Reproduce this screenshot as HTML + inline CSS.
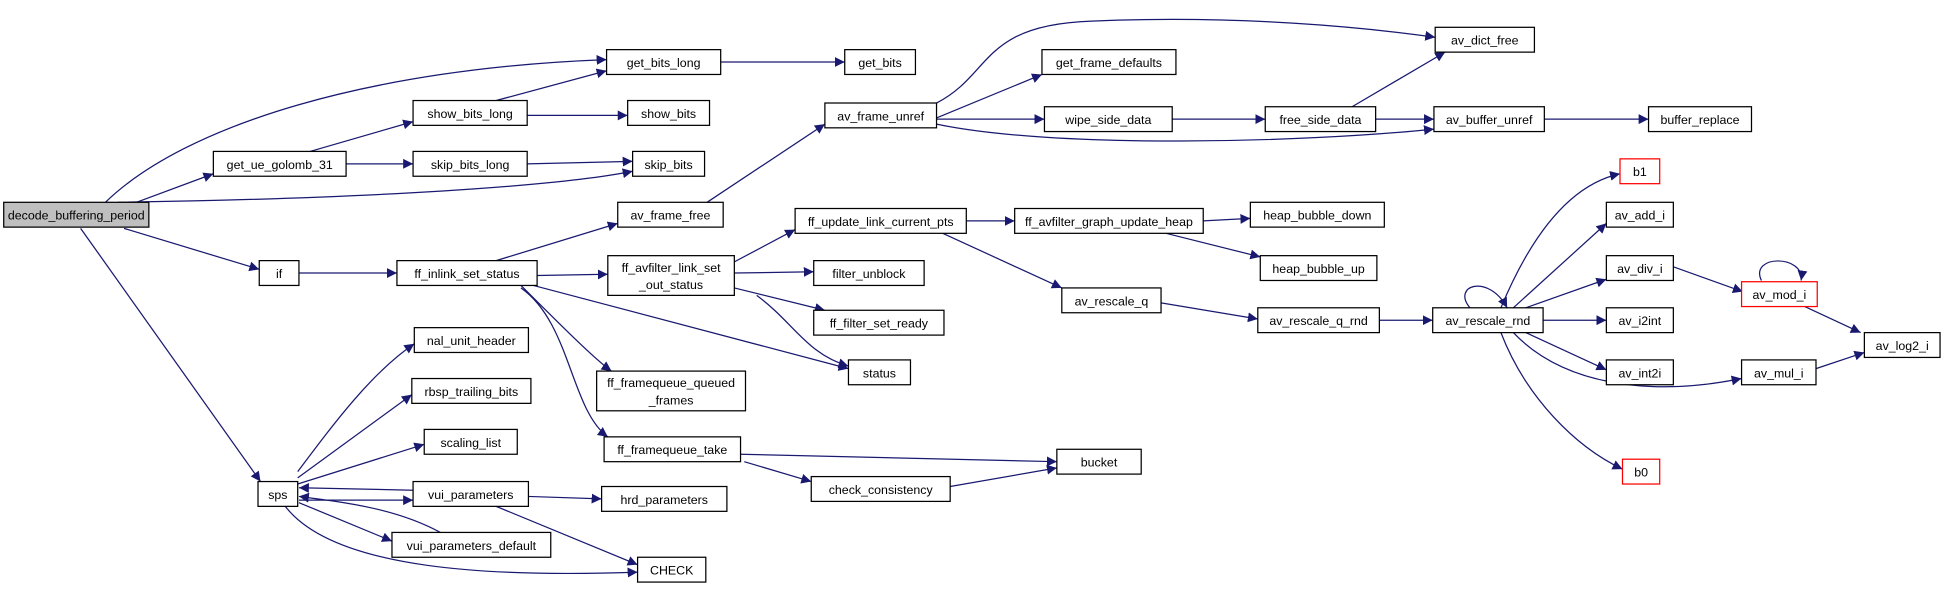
<!DOCTYPE html>
<html><head><meta charset="utf-8"><style>
html,body{margin:0;padding:0;background:#fff;width:1945px;height:592px;overflow:hidden}
svg text{font-family:"Liberation Sans",Arial,sans-serif;font-size:10px;fill:#000}
</style></head><body>
<svg width="1945" height="592" viewBox="0 0 1568 477" preserveAspectRatio="none" xmlns="http://www.w3.org/2000/svg">
<defs><marker id="a" viewBox="0 0 10 10" refX="10" refY="5" markerWidth="8" markerHeight="8" markerUnits="userSpaceOnUse" orient="auto"><path d="M0,0L10,5L0,10z" fill="#191970"/></marker></defs>
<g fill="none" stroke="#191970" stroke-width="1" marker-end="url(#a)">
<path d="M85,163C150,100 300,55 489,48"/>
<path d="M95,163C300,160 450,150 510,138"/>
<path d="M110,163L172,140"/>
<path d="M100,184L209,217"/>
<path d="M65,184L210,388"/>
<path d="M581,50L681,50"/>
<path d="M400,81L489,57"/>
<path d="M425,93L506,93"/>
<path d="M250,122L333,98"/>
<path d="M279,132L333,132"/>
<path d="M425,132L510,130"/>
<path d="M241,220L320,220"/>
<path d="M400,210L498,180"/>
<path d="M433,222L490,221"/>
<path d="M420,230C450,260 480,290 493,299"/>
<path d="M430,230L684,297"/>
<path d="M420,232C460,260 460,330 490,352"/>
<path d="M570,163L665,100"/>
<path d="M755,95L840,60"/>
<path d="M755,83C800,60 790,20 880,17C1000,12 1100,22 1157,30"/>
<path d="M755,96L842,96"/>
<path d="M755,100C850,120 1050,115 1156,104"/>
<path d="M945,96L1020,96"/>
<path d="M1090,86L1165,42"/>
<path d="M1109,96L1156,96"/>
<path d="M1245,96L1329,96"/>
<path d="M592,211L641,185"/>
<path d="M592,220L656,219"/>
<path d="M592,232L665,250"/>
<path d="M610,238C640,260 650,285 684,295"/>
<path d="M779,178L818,178"/>
<path d="M760,188L856,232"/>
<path d="M970,178L1008,176"/>
<path d="M940,188L1016,207"/>
<path d="M936,244L1014,257"/>
<path d="M1112,258L1155,258"/>
<path d="M1210,248C1230,200 1260,150 1306,140"/>
<path d="M1220,248L1295,180"/>
<path d="M1230,248L1295,225"/>
<path d="M1244,258L1295,258"/>
<path d="M1230,268L1295,298"/>
<path d="M1210,268C1230,320 1270,360 1308,378"/>
<path d="M1220,268C1260,310 1330,320 1404,305"/>
<path d="M1185,248C1170,230 1200,220 1215,248"/>
<path d="M1349,215L1405,235"/>
<path d="M1420,226C1410,205 1455,205 1452,226"/>
<path d="M1455,247L1500,268"/>
<path d="M1464,297L1503,284"/>
<path d="M597,366L852,372"/>
<path d="M600,372L654,388"/>
<path d="M766,392L852,377"/>
<path d="M240,380C270,340 300,300 334,277"/>
<path d="M240,385L332,318"/>
<path d="M240,390L342,358"/>
<path d="M333,395L241,393"/>
<path d="M241,403L333,403"/>
<path d="M426,400L485,402"/>
<path d="M400,408L514,455"/>
<path d="M355,429C320,410 280,405 241,400"/>
<path d="M241,405L316,436"/>
<path d="M230,408C270,460 400,465 514,461"/>
</g>
<g stroke-width="1" fill="#fff" stroke="#000">
<rect x="3" y="163" width="117" height="20" fill="#bfbfbf"/>
<rect x="489" y="40" width="92" height="20"/>
<rect x="681" y="40" width="57" height="20"/>
<rect x="333" y="81" width="92" height="20"/>
<rect x="506" y="81" width="66" height="20"/>
<rect x="172" y="122" width="107" height="20"/>
<rect x="333" y="122" width="92" height="20"/>
<rect x="510" y="122" width="58" height="20"/>
<rect x="209" y="210" width="32" height="20"/>
<rect x="320" y="210" width="113" height="20"/>
<rect x="498" y="163" width="85" height="20"/>
<rect x="665" y="83" width="90" height="20"/>
<rect x="840" y="40" width="108" height="20"/>
<rect x="1157" y="22" width="80" height="20"/>
<rect x="842" y="86" width="103" height="20"/>
<rect x="1020" y="86" width="89" height="20"/>
<rect x="1156" y="86" width="89" height="20"/>
<rect x="1329" y="86" width="83" height="20"/>
<rect x="641" y="168" width="138" height="20"/>
<rect x="818" y="168" width="152" height="20"/>
<rect x="1008" y="163" width="108" height="20"/>
<rect x="1016" y="206" width="94" height="20"/>
<rect x="490" y="206" width="102" height="32"/>
<rect x="656" y="210" width="89" height="20"/>
<rect x="656" y="250" width="105" height="20"/>
<rect x="856" y="232" width="80" height="20"/>
<rect x="1014" y="248" width="98" height="20"/>
<rect x="1155" y="248" width="89" height="20"/>
<rect x="1306" y="128" width="32" height="20" stroke="#f00"/>
<rect x="1295" y="163" width="54" height="20"/>
<rect x="1295" y="206" width="54" height="20"/>
<rect x="1404" y="227" width="61" height="20" stroke="#f00"/>
<rect x="1295" y="248" width="54" height="20"/>
<rect x="1295" y="290" width="54" height="20"/>
<rect x="1404" y="290" width="60" height="20"/>
<rect x="1503" y="268" width="61" height="20"/>
<rect x="1308" y="370" width="30" height="20" stroke="#f00"/>
<rect x="684" y="290" width="50" height="20"/>
<rect x="334" y="264" width="92" height="20"/>
<rect x="332" y="305" width="96" height="20"/>
<rect x="342" y="346" width="75" height="20"/>
<rect x="208" y="388" width="32" height="20"/>
<rect x="333" y="388" width="93" height="20"/>
<rect x="316" y="429" width="128" height="20"/>
<rect x="485" y="392" width="101" height="20"/>
<rect x="481" y="299" width="120" height="32"/>
<rect x="487" y="352" width="110" height="20"/>
<rect x="654" y="384" width="112" height="20"/>
<rect x="852" y="362" width="68" height="20"/>
<rect x="514" y="449" width="55" height="20"/>
</g>
<g text-anchor="middle">
<text x="61.5" y="177">decode_buffering_period</text>
<text x="535" y="54">get_bits_long</text>
<text x="709.5" y="54">get_bits</text>
<text x="379" y="95">show_bits_long</text>
<text x="539" y="95">show_bits</text>
<text x="225.5" y="136">get_ue_golomb_31</text>
<text x="379" y="136">skip_bits_long</text>
<text x="539" y="136">skip_bits</text>
<text x="225" y="224">if</text>
<text x="376.5" y="224">ff_inlink_set_status</text>
<text x="540.5" y="177">av_frame_free</text>
<text x="710" y="97">av_frame_unref</text>
<text x="894" y="54">get_frame_defaults</text>
<text x="1197" y="36">av_dict_free</text>
<text x="893.5" y="100">wipe_side_data</text>
<text x="1064.5" y="100">free_side_data</text>
<text x="1200.5" y="100">av_buffer_unref</text>
<text x="1370.5" y="100">buffer_replace</text>
<text x="710" y="182">ff_update_link_current_pts</text>
<text x="894" y="182">ff_avfilter_graph_update_heap</text>
<text x="1062" y="177">heap_bubble_down</text>
<text x="1063" y="220">heap_bubble_up</text>
<text x="541" y="219">ff_avfilter_link_set</text>
<text x="541" y="233">_out_status</text>
<text x="700.5" y="224">filter_unblock</text>
<text x="708.5" y="264">ff_filter_set_ready</text>
<text x="896" y="246">av_rescale_q</text>
<text x="1063" y="262">av_rescale_q_rnd</text>
<text x="1199.5" y="262">av_rescale_rnd</text>
<text x="1322" y="142">b1</text>
<text x="1322" y="177">av_add_i</text>
<text x="1322" y="220">av_div_i</text>
<text x="1434.5" y="241">av_mod_i</text>
<text x="1322" y="262">av_i2int</text>
<text x="1322" y="304">av_int2i</text>
<text x="1434" y="304">av_mul_i</text>
<text x="1533.5" y="282">av_log2_i</text>
<text x="1323" y="384">b0</text>
<text x="709" y="304">status</text>
<text x="380" y="278">nal_unit_header</text>
<text x="380" y="319">rbsp_trailing_bits</text>
<text x="379.5" y="360">scaling_list</text>
<text x="224" y="402">sps</text>
<text x="379.5" y="402">vui_parameters</text>
<text x="380" y="443">vui_parameters_default</text>
<text x="535.5" y="406">hrd_parameters</text>
<text x="541" y="312">ff_framequeue_queued</text>
<text x="541" y="326">_frames</text>
<text x="542" y="366">ff_framequeue_take</text>
<text x="710" y="398">check_consistency</text>
<text x="886" y="376">bucket</text>
<text x="541.5" y="463">CHECK</text>
</g>
</svg>
</body></html>
